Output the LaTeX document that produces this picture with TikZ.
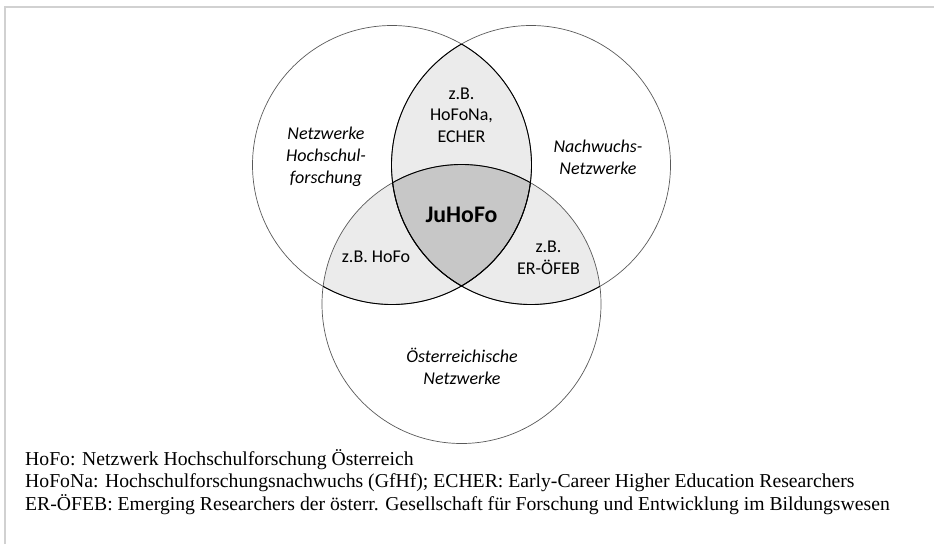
\documentclass[tikz,border=0pt]{standalone}
\usepackage{fontspec}
\setmainfont{Liberation Serif}
\newfontfamily\calibri{Carlito}

\tikzset{
  kreis/.style={draw=black!65, line width=0.7pt},
  rand/.style={draw=black, line width=0.9pt},
  feld/.style={font=\calibri\itshape\fontsize{18}{22}\selectfont, align=center},
  beispiel/.style={font=\calibri\fontsize{18}{21.5}\selectfont, align=center},
  legende/.style={font=\fontsize{19.7}{22.5}\selectfont, anchor=base west, inner sep=0pt}
}

\begin{document}
\begin{tikzpicture}[x=1pt,y=-1pt]
\useasboundingbox (0,0) rectangle (934,544);
% Rahmen
\draw[black!18, line width=1.5pt] (5,544) -- (5,7) -- (934,7);

% Mittelpunkte der drei Kreise
\coordinate (mL) at (392,165);
\coordinate (mR) at (531,165);
\coordinate (mU) at (461.5,304);
\def\rad{139.5}

% Schnittflaechen
\begin{scope}
  \clip (mL) circle[radius=\rad];
  \fill[black!8] (mR) circle[radius=\rad];
  \fill[black!8] (mU) circle[radius=\rad];
\end{scope}
\begin{scope}
  \clip (mR) circle[radius=\rad];
  \fill[black!8] (mU) circle[radius=\rad];
\end{scope}
\begin{scope}
  \clip (mL) circle[radius=\rad];
  \clip (mR) circle[radius=\rad];
  \fill[black!22] (mU) circle[radius=\rad];
\end{scope}

% Kreise
\draw[kreis] (mL) circle[radius=\rad];
\draw[kreis] (mR) circle[radius=\rad];
\draw[kreis] (mU) circle[radius=\rad];

% dunkle Raender der Schnittflaechen
\begin{scope}
  \clip (mR) circle[radius=\rad];
  \draw[rand] (mL) circle[radius=\rad];
\end{scope}
\begin{scope}
  \clip (mU) circle[radius=\rad];
  \draw[rand] (mL) circle[radius=\rad];
  \draw[rand] (mR) circle[radius=\rad];
\end{scope}
\begin{scope}
  \clip (mL) circle[radius=\rad];
  \draw[rand] (mR) circle[radius=\rad];
\end{scope}
\begin{scope}
  \clip (mL) circle[radius=\rad];
  \clip (mR) circle[radius=\rad];
  \draw[rand] (mU) circle[radius=\rad];
\end{scope}

% Beschriftungen
\node[feld] (hochschul) at (326,157) {Netzwerke\\Hochschul-\\forschung};
\node[feld] (nachwuchs) at (598,157) {Nachwuchs-\\Netzwerke};
\node[feld] (oesterreich) at (462,366) {Österreichische\\Netzwerke};
\node[beispiel] (hofona) at (461.5,115) {z.B.\\HoFoNa,\\ECHER};
\node[beispiel] (hofo) at (376,257) {z.B. HoFo};
\node[beispiel] (oefeb) at (548.5,258) {z.B.\\ER-ÖFEB};
\node[font=\calibri\bfseries\fontsize{23.8}{26}\selectfont] (juhofo) at (461.5,215) {JuHoFo};

% Legende
\node[legende] (leg1) at (25,465) {HoFo: Netzwerk Hochschulforschung Österreich};
\node[legende] (leg2) at (25,487.5) {HoFoNa: Hochschulforschungsnachwuchs (GfHf); ECHER: Early-Career Higher Education Researchers};
\node[legende] (leg3) at (25,510) {ER-ÖFEB: Emerging Researchers der österr. Gesellschaft für Forschung und Entwicklung im Bildungswesen};
\end{tikzpicture}
\end{document}
